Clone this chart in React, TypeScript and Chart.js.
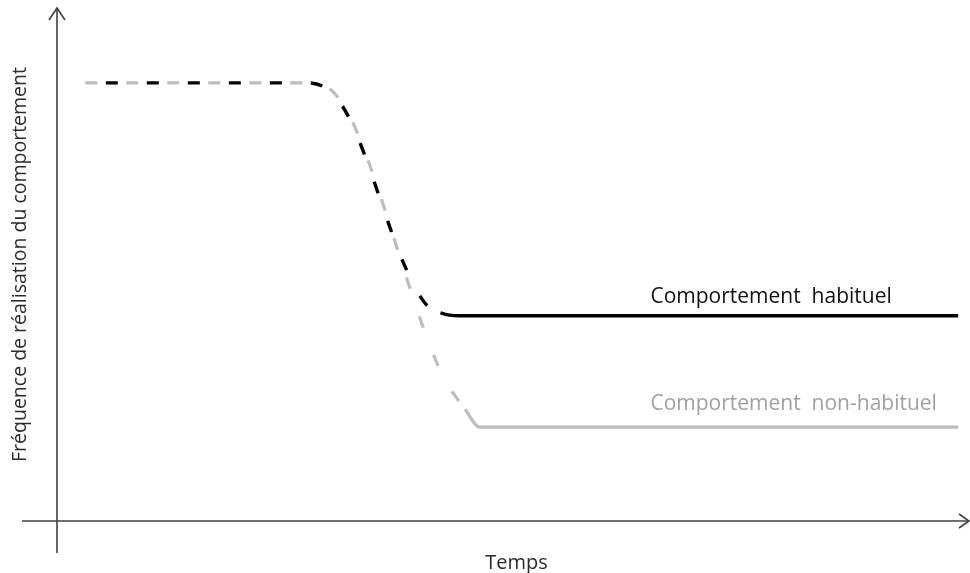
import React, { useEffect, useRef } from "react";
import { Chart, registerables } from "chart.js";

Chart.register(...registerables);

// Time axis values (arbitrary units 0..100) and behaviour frequency values (0..100)
const timeHabituel = [3.1, 27.6, 30, 32.1, 38.2, 40.3, 42, 44.1, 98.7];
const freqHabituel = [85.4, 85.4, 83.6, 78.2, 49.3, 42.5, 40.6, 40, 40];
const timeNonHabituel = [3.1, 28.3, 31, 33, 42, 44.7, 46.3, 98.7];
const freqNonHabituel = [85.4, 85.4, 82.1, 75.2, 29.2, 21.8, 18.3, 18.3];
// index of first point from which each line is drawn solid
const solidFromHabituel = 6;
const solidFromNonHabituel = 5;

const labelHabituel = "Comportement  habituel";
const labelNonHabituel = "Comportement  non-habituel";
const labelX = "Temps";
const labelY = "Fréquence de réalisation du comportement";
const labelAtTime = 65;

const FONT = '"Open Sans", "Noto Sans", sans-serif';

const axesPlugin = {
  id: "customAxes",
  afterDraw(chart: any) {
    const { ctx, chartArea } = chart;
    const xs = chart.scales.x;
    const ys = chart.scales.y;
    const x0 = xs.getPixelForValue(0);
    const y0 = ys.getPixelForValue(0);
    ctx.save();
    ctx.strokeStyle = "#404040";
    ctx.lineWidth = 1.6;
    // x axis
    ctx.beginPath();
    ctx.moveTo(22, y0);
    ctx.lineTo(chart.width - 1, y0);
    ctx.stroke();
    ctx.beginPath();
    ctx.moveTo(chart.width - 11, y0 - 7);
    ctx.lineTo(chart.width - 1, y0);
    ctx.lineTo(chart.width - 11, y0 + 7);
    ctx.stroke();
    // y axis
    ctx.beginPath();
    ctx.moveTo(x0, y0 + 32);
    ctx.lineTo(x0, chartArea.top);
    ctx.stroke();
    ctx.beginPath();
    ctx.moveTo(x0 - 8, chartArea.top + 12);
    ctx.lineTo(x0, chartArea.top);
    ctx.lineTo(x0 + 8, chartArea.top + 12);
    ctx.stroke();

    // axis titles
    ctx.fillStyle = "#2b2b2b";
    ctx.textAlign = "center";
    ctx.textBaseline = "middle";
    ctx.font = `20px ${FONT}`;
    ctx.fillText(labelX, (chartArea.left + chartArea.right) / 2 + 3, y0 + 42);
    ctx.save();
    ctx.translate(chartArea.left - 37, (chartArea.top + chartArea.bottom) / 2);
    ctx.rotate(-Math.PI / 2);
    ctx.font = `19.5px ${FONT}`;
    ctx.fillText(labelY, 0, 0);
    ctx.restore();

    // line labels
    ctx.textAlign = "left";
    ctx.textBaseline = "alphabetic";
    ctx.font = `21px ${FONT}`;
    const lx = xs.getPixelForValue(labelAtTime);
    ctx.fillStyle = "#111111";
    ctx.fillText(labelHabituel, lx, ys.getPixelForValue(freqHabituel[freqHabituel.length - 1]) - 13);
    ctx.fillStyle = "#a0a0a0";
    ctx.fillText(labelNonHabituel, lx, ys.getPixelForValue(freqNonHabituel[freqNonHabituel.length - 1]) - 17);
    ctx.restore();
  },
};

export default function App() {
  const ref = useRef<HTMLCanvasElement | null>(null);
  useEffect(() => {
    document.body.style.margin = "0";
    const canvas = ref.current!;
    const dash = [12, 29];
    const chart = new Chart(canvas, {
      type: "line",
      data: {
        datasets: [
          {
            label: labelNonHabituel,
            data: timeNonHabituel.map((t, i) => ({ x: t, y: freqNonHabituel[i] })),
            borderColor: "#bdbdbd",
            borderWidth: 3.2,
            pointRadius: 0,
            cubicInterpolationMode: "monotone",
            borderDash: [],
            segment: {
              borderDash: (c: any) => (c.p1DataIndex <= solidFromNonHabituel ? dash : undefined),
            },
          },
          {
            label: labelHabituel,
            data: timeHabituel.map((t, i) => ({ x: t, y: freqHabituel[i] })),
            borderColor: "#000000",
            borderWidth: 3.4,
            pointRadius: 0,
            cubicInterpolationMode: "monotone",
            borderDash: [],
            borderDashOffset: 20.5,
            segment: {
              borderDash: (c: any) => (c.p1DataIndex <= solidFromHabituel ? dash : undefined),
            },
          },
        ],
      },
      options: {
        animation: false,
        responsive: false,
        devicePixelRatio: 1,
        layout: { padding: { left: 57, right: 0, top: 8, bottom: 52 } },
        plugins: { legend: { display: false }, tooltip: { enabled: false } },
        scales: {
          x: { type: "linear", min: 0, max: 100, display: false },
          y: { type: "linear", min: 0, max: 100, display: false },
        },
      },
      plugins: [axesPlugin],
    } as any);
    return () => chart.destroy();
  }, []);
  return (
    <div style={{ position: "absolute", left: 0, top: 0, width: 970, height: 573, background: "#fff" }}>
      <canvas ref={ref} width={970} height={573} style={{ width: 970, height: 573 }} />
    </div>
  );
}
